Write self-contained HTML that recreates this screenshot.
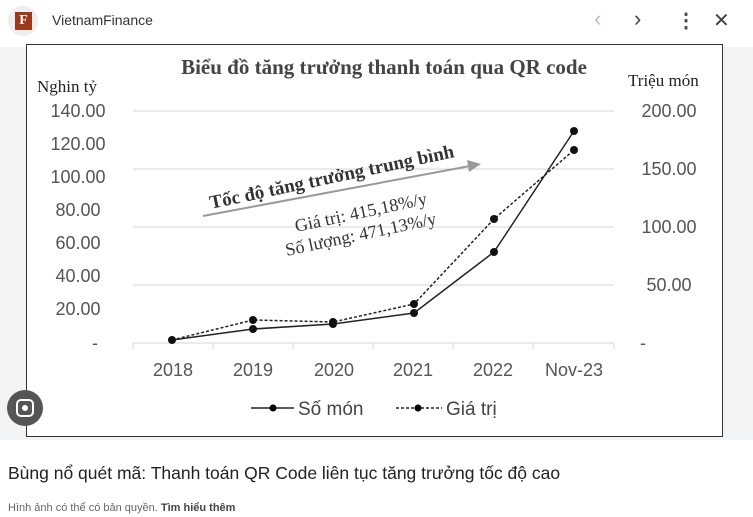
<!DOCTYPE html>
<html><head><meta charset="utf-8"><style>
body{margin:0;width:753px;height:517px;background:#fff;position:relative;overflow:hidden;font-family:"Liberation Sans",sans-serif}
.gray{position:absolute;left:0;top:47px;width:753px;height:393px;background:#f1f3f4}
.frame{position:absolute;left:26px;top:44px;width:697px;height:393px;background:#fff;border:1.5px solid #333;box-sizing:border-box}
</style></head><body>
<div style="position:absolute;left:8px;top:6px;width:30px;height:30px;border-radius:50%;background:#eee"></div>
<div style="position:absolute;left:15px;top:12px;width:17px;height:18px;background:#9a3a1a;color:#fff;font:bold 14px 'Liberation Serif',serif;text-align:center;line-height:18px">F</div>
<div style="position:absolute;left:52px;top:12px;font-size:14px;color:#333">VietnamFinance</div>
<div style="position:absolute;left:594px;top:6px;font-size:22px;color:#bbb">‹</div>
<div style="position:absolute;left:634px;top:6px;font-size:22px;color:#444">›</div>
<div style="position:absolute;left:676px;top:8px;font-size:20px;color:#444;font-weight:bold">⋮</div>
<div style="position:absolute;left:713px;top:8px;font-size:20px;color:#444">✕</div>
<div class="gray"></div>
<div class="frame"></div>
<svg style="position:absolute;left:0;top:0" width="753" height="517">
<text x="384" y="74" text-anchor="middle" font-family="Liberation Serif,serif" font-weight="bold" font-size="21" fill="#444">Biểu đồ tăng trưởng thanh toán qua QR code</text>
<text x="37" y="92" font-family="Liberation Serif,serif" font-size="17" fill="#222">Nghin tỷ</text>
<text x="628" y="86" font-family="Liberation Serif,serif" font-size="17" fill="#222">Triệu món</text>
<g stroke="#ddd" stroke-width="1.3">
<line x1="133" y1="111" x2="614" y2="111"/><line x1="133" y1="169" x2="614" y2="169"/><line x1="133" y1="227" x2="614" y2="227"/><line x1="133" y1="285" x2="614" y2="285"/><line x1="133" y1="343" x2="614" y2="343"/>
<line x1="133" y1="343" x2="133" y2="349"/><line x1="213" y1="343" x2="213" y2="349"/><line x1="293" y1="343" x2="293" y2="349"/><line x1="373" y1="343" x2="373" y2="349"/><line x1="453" y1="343" x2="453" y2="349"/><line x1="533" y1="343" x2="533" y2="349"/><line x1="614" y1="343" x2="614" y2="349"/>
</g>
<g font-size="18" fill="#555" text-anchor="middle">
<text x="78" y="117">140.00</text><text x="78" y="150">120.00</text><text x="78" y="183">100.00</text><text x="78" y="216">80.00</text><text x="78" y="249">60.00</text><text x="78" y="282">40.00</text><text x="78" y="315">20.00</text><text x="95" y="349">-</text>
<text x="669" y="117">200.00</text><text x="669" y="175">150.00</text><text x="669" y="233">100.00</text><text x="669" y="291">50.00</text><text x="643" y="349">-</text>
<text x="173" y="376">2018</text><text x="253" y="376">2019</text><text x="334" y="376">2020</text><text x="413" y="376">2021</text><text x="493" y="376">2022</text><text x="574" y="376">Nov-23</text>
</g>
<line x1="203" y1="216" x2="470" y2="166" stroke="#999" stroke-width="2"/>
<polygon points="481,164 467,160 469,172" fill="#999"/>
<g font-family="Liberation Serif,serif" fill="#333">
<text transform="translate(333,183) rotate(-12)" text-anchor="middle" font-weight="bold" font-size="19">Tốc độ tăng trưởng trung bình</text>
<text transform="translate(362,218) rotate(-12)" text-anchor="middle" font-size="18">Giá trị: 415,18%/y</text>
<text transform="translate(362,240) rotate(-12)" text-anchor="middle" font-size="18">Số lượng: 471,13%/y</text>
</g>
<polyline points="172,340 253,329 333,324 414,313 494,252 574,131" fill="none" stroke="#222" stroke-width="1.5"/>
<polyline points="172,340 253,320 333,322 414,304 494,219 574,150" fill="none" stroke="#222" stroke-width="1.5" stroke-dasharray="3,2"/>
<g fill="#111">
<circle cx="172" cy="340" r="4"/><circle cx="253" cy="329" r="4"/><circle cx="333" cy="324" r="4"/><circle cx="414" cy="313" r="4"/><circle cx="494" cy="252" r="4"/><circle cx="574" cy="131" r="4"/>
<circle cx="253" cy="320" r="4"/><circle cx="333" cy="322" r="4"/><circle cx="414" cy="304" r="4"/><circle cx="494" cy="219" r="4"/><circle cx="574" cy="150" r="4"/>
</g>
<line x1="251" y1="408" x2="294" y2="408" stroke="#222" stroke-width="1.5"/><circle cx="273" cy="408" r="3.5"/>
<text x="298" y="415" font-size="19" fill="#444">Số món</text>
<line x1="396" y1="408" x2="442" y2="408" stroke="#222" stroke-width="1.5" stroke-dasharray="3,2"/><circle cx="418" cy="408" r="3.5"/>
<text x="446" y="415" font-size="19" fill="#444">Giá trị</text>
<circle cx="25" cy="408" r="18" fill="#555"/>
<rect x="17" y="400" width="16" height="16" rx="4" fill="none" stroke="#fff" stroke-width="2"/><circle cx="25" cy="408" r="3" fill="#fff"/>
</svg>
<div style="position:absolute;left:8px;top:463px;font-size:17.5px;color:#222">Bùng nổ quét mã: Thanh toán QR Code liên tục tăng trưởng tốc độ cao</div>
<div style="position:absolute;left:8px;top:502px;font-size:11px;color:#666">Hình ảnh có thể có bản quyền. <b style="color:#444">Tìm hiểu thêm</b></div>
</body></html>
